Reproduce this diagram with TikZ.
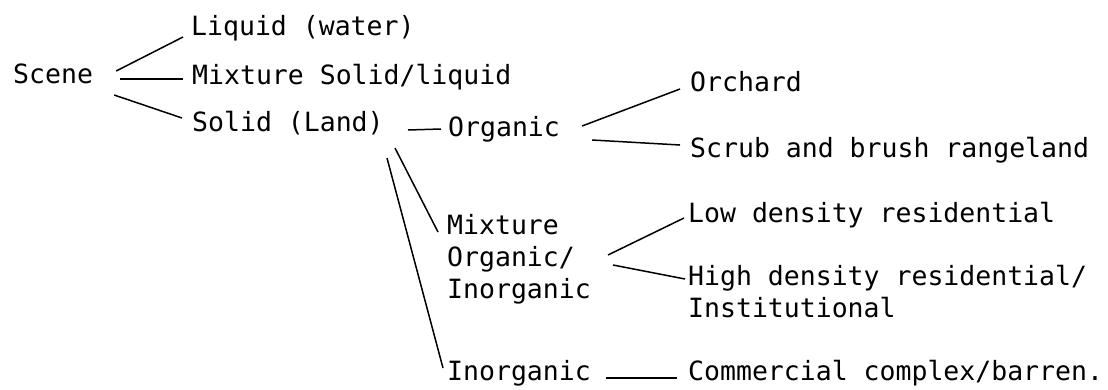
\documentclass[tikz,border=0pt]{standalone}
\usepackage{fontspec}
\newfontfamily\labelfont{DejaVu Sans Mono}

\begin{document}
\begin{tikzpicture}[x=1pt,y=-1pt,
	lbl/.style={inner sep=0pt, anchor=base west, align=left,
		font=\labelfont\fontsize{26.5}{32}\selectfont},
	link/.style={line width=1.5pt}]
	\useasboundingbox (0,0) rectangle (1108,389);
	% labels
	\node[lbl] (scene) at (13,83) {Scene};
	\node[lbl] (liquid) at (191,35) {Liquid (water)};
	\node[lbl] (mixsl) at (192,84) {Mixture Solid/liquid};
	\node[lbl] (solid) at (192,131) {Solid (Land)};
	\node[lbl] (organic) at (448,136) {Organic};
	\node[lbl] (mixorg) at (447,298) {Mixture\\Organic/\\Inorganic};
	\node[lbl] (inorg) at (447,380) {Inorganic};
	\node[lbl] (orchard) at (690,91) {Orchard};
	\node[lbl] (scrub) at (690,157) {Scrub and brush rangeland};
	\node[lbl] (low) at (688,222) {Low density residential};
	\node[lbl] (high) at (688,317) {High density residential/\\Institutional};
	\node[lbl] (comm) at (688,380) {Commercial complex/barren.};
	% connectors
	\draw[link] ([shift={(23,-12)}]scene.base east) -- ([shift={(-8,2)}]liquid.base west);
	\draw[link] ([shift={(27,-4)}]scene.base east) -- ([shift={(-9,-5)}]mixsl.base west);
	\draw[link] ([shift={(21,12)}]scene.base east) -- ([shift={(-10,-13)}]solid.base west);
	\draw[link] ([shift={(216,-1)}]solid.base west) -- ([shift={(-7,-7)}]organic.base west);
	\draw[link] ([shift={(203,17)}]solid.base west) -- ([shift={(-9,-66)}]mixorg.base west);
	\draw[link] ([shift={(195,27)}]solid.base west) -- ([shift={(-4,-12)}]inorg.base west);
	\draw[link] ([shift={(22,-10)}]organic.base east) -- ([shift={(-10,-2)}]orchard.base west);
	\draw[link] ([shift={(32,4)}]organic.base east) -- ([shift={(-10,-12)}]scrub.base west);
	\draw[link] ([shift={(161,-43)}]mixorg.base west) -- ([shift={(-4,-4)}]low.base west);
	\draw[link] ([shift={(166,-33)}]mixorg.base west) -- ([shift={(-3,-38)}]high.base west);
	\draw[link] ([shift={(15,-2)}]inorg.base east) -- ([shift={(-11,-2)}]comm.base west);
\end{tikzpicture}
\end{document}
